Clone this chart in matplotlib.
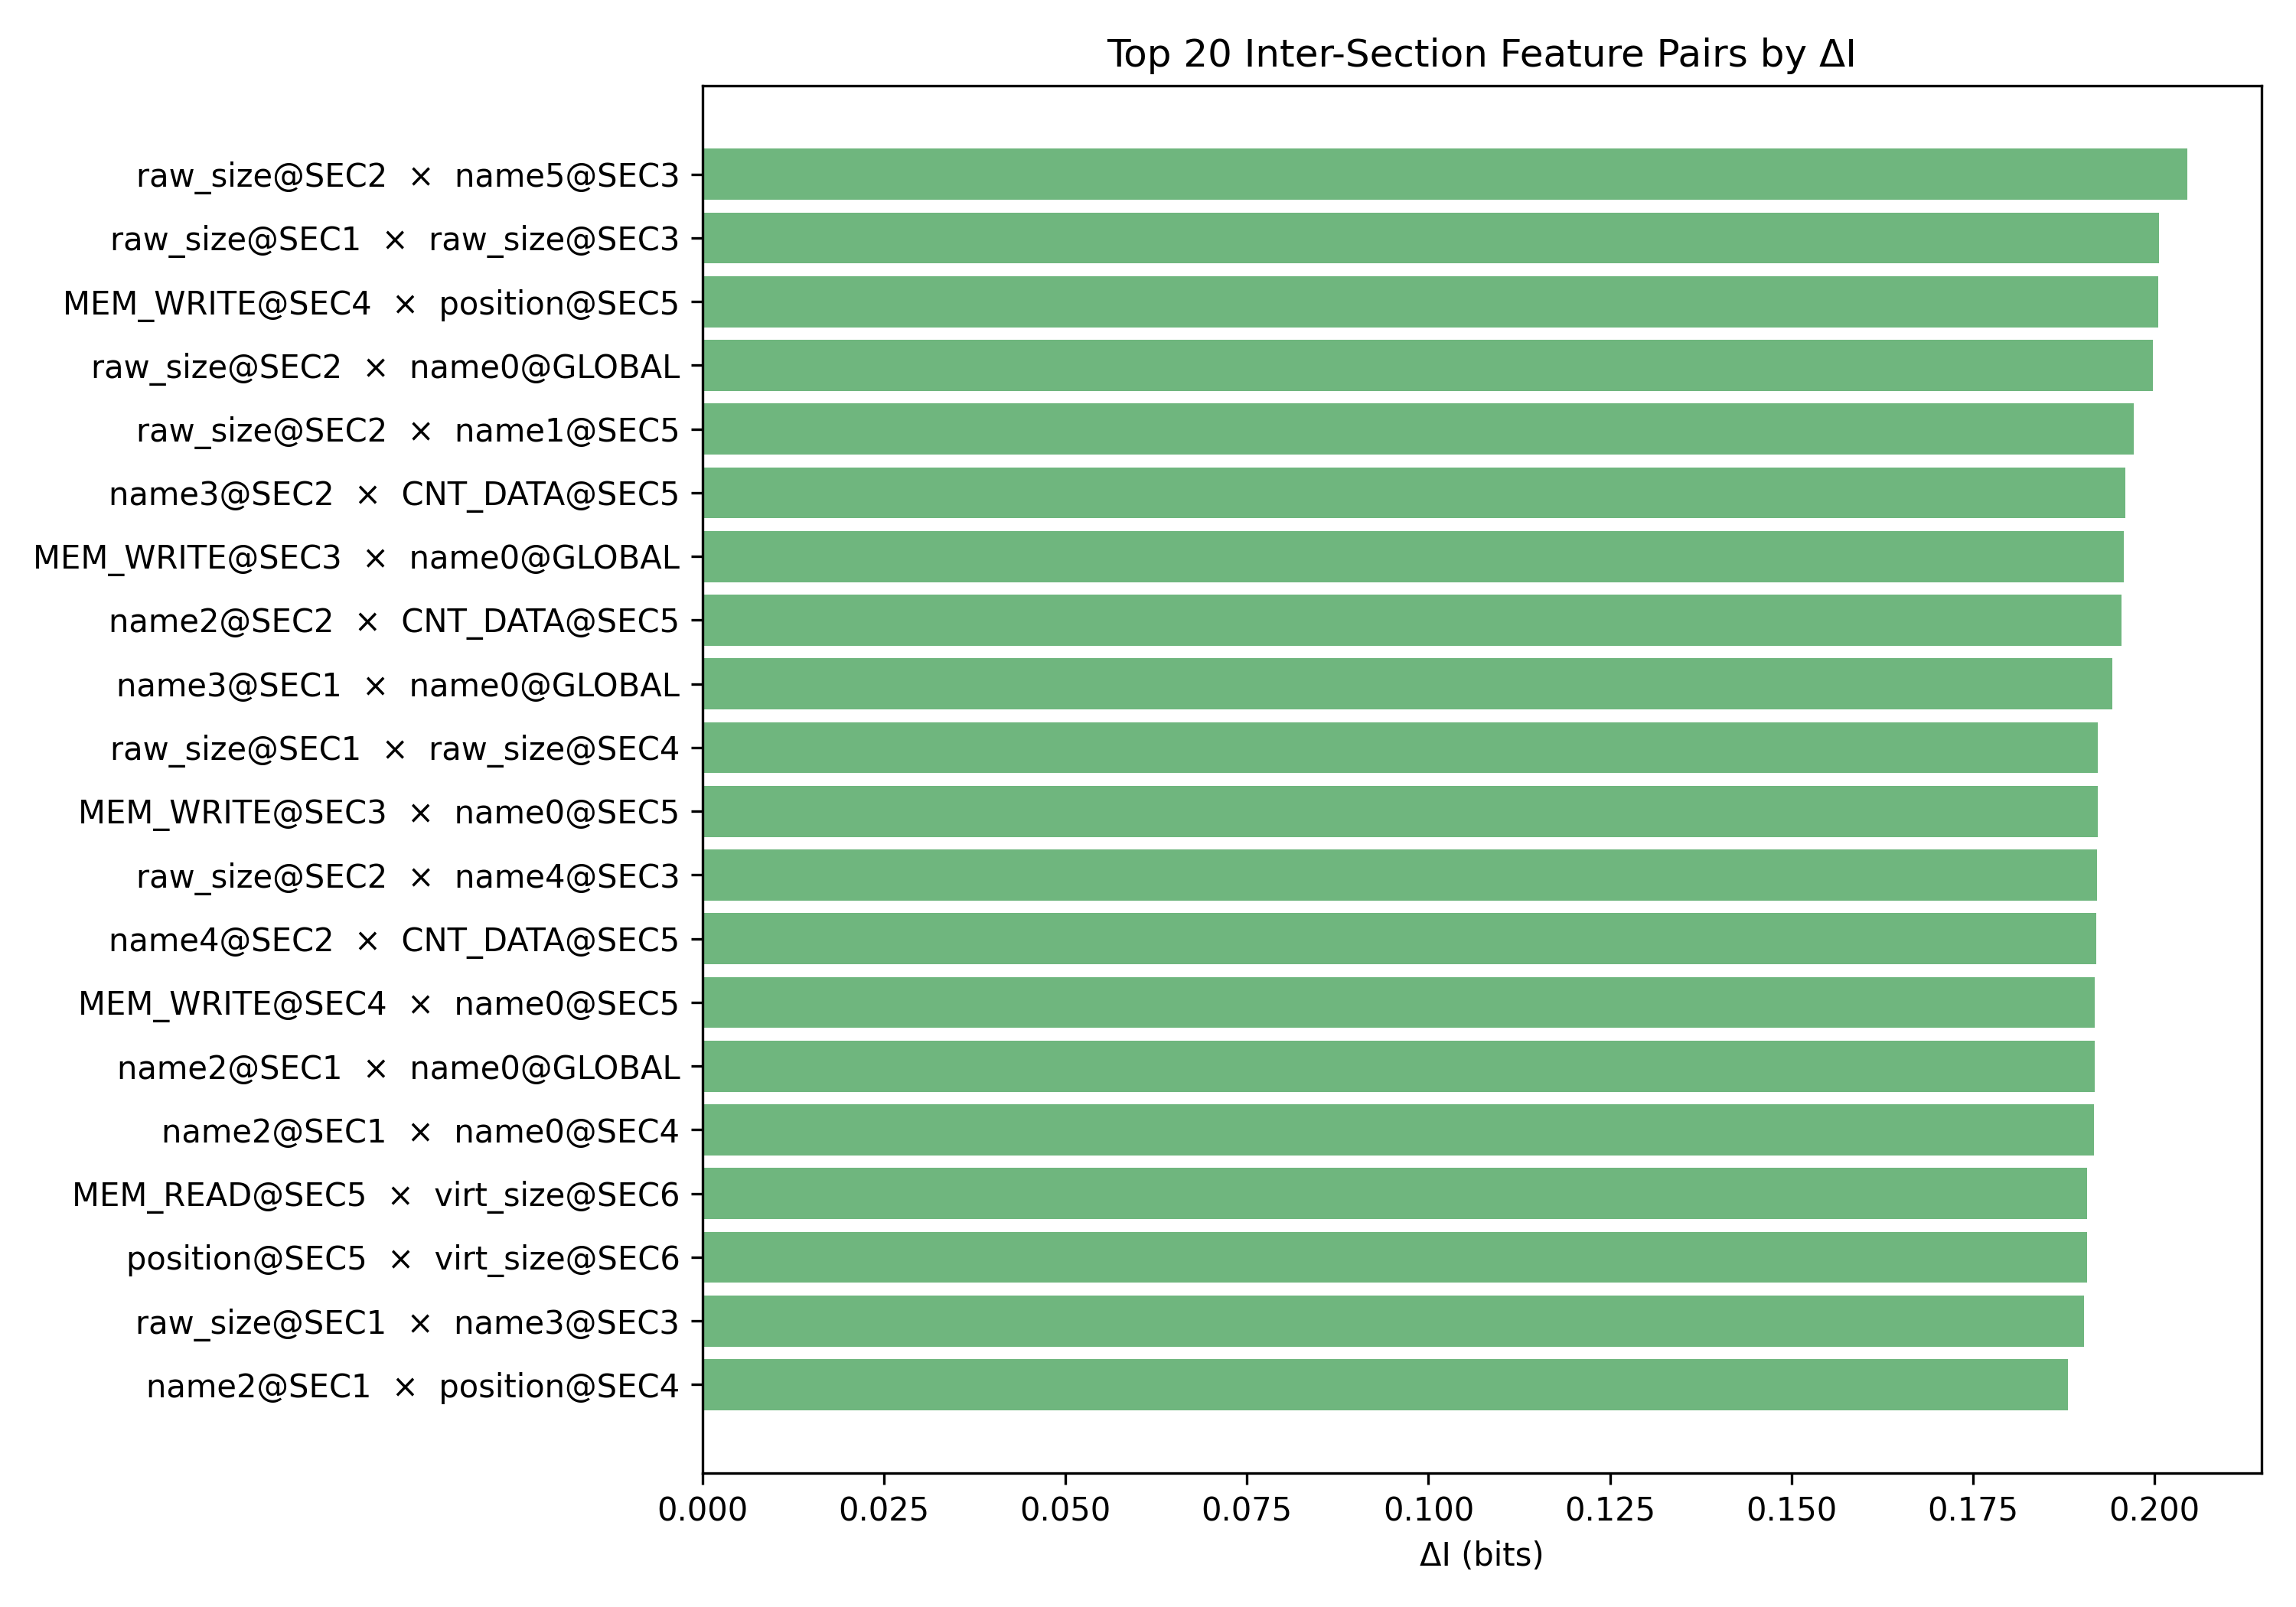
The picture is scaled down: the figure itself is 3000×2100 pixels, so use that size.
import matplotlib
matplotlib.use("Agg")
import matplotlib.pyplot as plt

# top-ranked pair first
pairs = [
    ("raw_size@SEC2", "name5@SEC3"),
    ("raw_size@SEC1", "raw_size@SEC3"),
    ("MEM_WRITE@SEC4", "position@SEC5"),
    ("raw_size@SEC2", "name0@GLOBAL"),
    ("raw_size@SEC2", "name1@SEC5"),
    ("name3@SEC2", "CNT_DATA@SEC5"),
    ("MEM_WRITE@SEC3", "name0@GLOBAL"),
    ("name2@SEC2", "CNT_DATA@SEC5"),
    ("name3@SEC1", "name0@GLOBAL"),
    ("raw_size@SEC1", "raw_size@SEC4"),
    ("MEM_WRITE@SEC3", "name0@SEC5"),
    ("raw_size@SEC2", "name4@SEC3"),
    ("name4@SEC2", "CNT_DATA@SEC5"),
    ("MEM_WRITE@SEC4", "name0@SEC5"),
    ("name2@SEC1", "name0@GLOBAL"),
    ("name2@SEC1", "name0@SEC4"),
    ("MEM_READ@SEC5", "virt_size@SEC6"),
    ("position@SEC5", "virt_size@SEC6"),
    ("raw_size@SEC1", "name3@SEC3"),
    ("name2@SEC1", "position@SEC4"),
]
delta_i = [0.2045, 0.2006, 0.2005, 0.1998, 0.1971, 0.1960, 0.1958, 0.1954,
           0.1942, 0.1922, 0.1922, 0.1921, 0.1920, 0.1917, 0.1917, 0.1916,
           0.1907, 0.1907, 0.1903, 0.1881]

labels = [f"{a}  \u00d7  {b}" for a, b in pairs]

fig, ax = plt.subplots(figsize=(10, 7))
ax.barh(range(len(labels)), delta_i, color="#6fb67e")
ax.set_yticks(range(len(labels)))
ax.set_yticklabels(labels)
ax.invert_yaxis()
ax.set_xlabel("\u0394I (bits)")
ax.set_title("Top 20 Inter-Section Feature Pairs by \u0394I")
fig.tight_layout()
fig.savefig("out.png", dpi=300)
